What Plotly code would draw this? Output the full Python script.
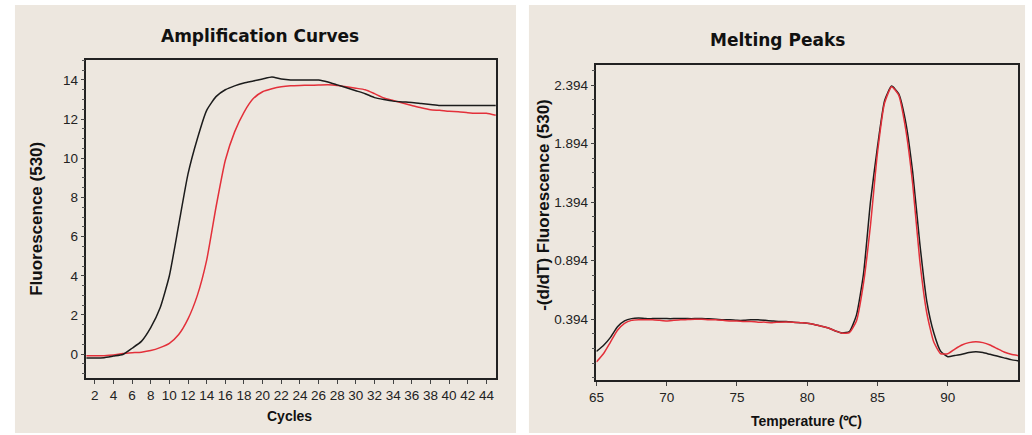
import plotly.graph_objects as go

# ---- Amplification curves: fluorescence (530) per PCR cycle ----
cycles = list(range(1, 46))
amp_black = [-0.20, -0.20, -0.18, -0.10, -0.02, 0.30, 0.65, 1.35, 2.35, 4.00,
             6.60, 9.20, 11.00, 12.45, 13.15, 13.50, 13.70, 13.85, 13.95, 14.05,
             14.15, 14.05, 14.00, 14.00, 14.00, 14.00, 13.90, 13.75, 13.60, 13.45,
             13.30, 13.10, 13.00, 12.92, 12.88, 12.85, 12.80, 12.75, 12.70, 12.70,
             12.70, 12.70, 12.70, 12.70, 12.70]
amp_red = [-0.08, -0.08, -0.08, -0.05, 0.03, 0.07, 0.10, 0.18, 0.33, 0.55,
           1.00, 1.80, 3.00, 4.80, 7.50, 9.90, 11.35, 12.35, 13.05, 13.40,
           13.55, 13.65, 13.70, 13.72, 13.73, 13.74, 13.75, 13.72, 13.65, 13.58,
           13.50, 13.30, 13.08, 12.95, 12.82, 12.70, 12.58, 12.48, 12.45, 12.40,
           12.38, 12.33, 12.30, 12.30, 12.20]
amp_xticks = list(range(2, 46, 2))
amp_yticks = [0, 2, 4, 6, 8, 10, 12, 14]

# ---- Melting peaks: -(d/dT) fluorescence (530) vs temperature ----
temps = [65 + 0.5 * i for i in range(61)]
melt_black = [0.12, 0.17, 0.24, 0.33, 0.38, 0.40, 0.405, 0.40, 0.40, 0.40,
              0.40, 0.40, 0.402, 0.40, 0.40, 0.40, 0.398, 0.395, 0.39, 0.39,
              0.385, 0.385, 0.39, 0.39, 0.385, 0.38, 0.375, 0.375, 0.37, 0.365,
              0.36, 0.35, 0.335, 0.32, 0.295, 0.278, 0.29, 0.43, 0.78, 1.40,
              1.87, 2.26, 2.385, 2.32, 2.08, 1.65, 1.05, 0.55, 0.28, 0.12,
              0.075, 0.085, 0.095, 0.11, 0.117, 0.11, 0.095, 0.08, 0.065, 0.05,
              0.04]
melt_red = [0.03, 0.10, 0.20, 0.30, 0.36, 0.385, 0.39, 0.39, 0.39, 0.385,
            0.38, 0.385, 0.39, 0.392, 0.395, 0.395, 0.39, 0.39, 0.385, 0.38,
            0.38, 0.375, 0.375, 0.37, 0.37, 0.365, 0.37, 0.372, 0.37, 0.365,
            0.36, 0.35, 0.335, 0.32, 0.295, 0.275, 0.28, 0.38, 0.70, 1.20,
            1.82, 2.24, 2.38, 2.31, 2.02, 1.55, 0.90, 0.45, 0.20, 0.10,
            0.10, 0.14, 0.175, 0.195, 0.203, 0.195, 0.175, 0.145, 0.115, 0.095,
            0.085]
melt_yticks = [0.394, 0.894, 1.394, 1.894, 2.394]
melt_xticks = [65, 70, 75, 80, 85, 90]

W, H = 1032, 435
BLACK = "#1c1c1c"
RED = "#e3303a"
PANEL = "#ede7df"
TICK_FONT = dict(family="Liberation Sans, Arial, sans-serif", size=13.5, color="#222")
LABEL_FONT = dict(family="Liberation Sans, Arial, sans-serif", size=14, color="#111")
VLABEL_FONT = dict(family="Liberation Sans, Arial, sans-serif", size=17, color="#111")
TITLE_FONT = dict(family="DejaVu Sans, Arial, sans-serif", size=17, color="#111")


def px_x(v):
    return v / W


def px_y(v):
    return 1 - v / H


fig = go.Figure()
line_style = dict(width=1.5, shape="spline", smoothing=0.5)
fig.add_trace(go.Scatter(x=cycles, y=amp_red, mode="lines", xaxis="x", yaxis="y",
                         line=dict(color=RED, **line_style), showlegend=False))
fig.add_trace(go.Scatter(x=cycles, y=amp_black, mode="lines", xaxis="x", yaxis="y",
                         line=dict(color=BLACK, **line_style), showlegend=False))
fig.add_trace(go.Scatter(x=temps, y=melt_black, mode="lines", xaxis="x2", yaxis="y2",
                         line=dict(color=BLACK, **line_style), showlegend=False))
fig.add_trace(go.Scatter(x=temps, y=melt_red, mode="lines", xaxis="x2", yaxis="y2",
                         line=dict(color=RED, **line_style), showlegend=False))

axis_common = dict(showline=True, mirror=True, linecolor="#222", linewidth=1.5,
                   showgrid=False, zeroline=False, ticks="outside", ticklen=4,
                   tickcolor="#444", tickwidth=1, tickfont=TICK_FONT, tickangle=0)


def label(text, x, y, font, angle=0):
    return dict(text=text, xref="paper", yref="paper", x=px_x(x), y=px_y(y),
                xanchor="center", yanchor="middle", showarrow=False,
                textangle=angle, font=font)


fig.update_layout(
    width=W, height=H,
    margin=dict(l=0, r=0, t=0, b=0),
    paper_bgcolor="white",
    plot_bgcolor="white",
    xaxis=dict(domain=[px_x(79), px_x(492)], range=[1.1, 45.05],
               tickvals=amp_xticks, anchor="y", **axis_common),
    yaxis=dict(domain=[px_y(378), px_y(60)], range=[-1.22, 15.02],
               tickvals=amp_yticks, anchor="x",
               minor=dict(tick0=0, dtick=0.5, ticks="outside", ticklen=3,
                          tickcolor="#555"),
               **axis_common),
    xaxis2=dict(domain=[px_x(593), px_x(1018)], range=[65, 95],
                tickvals=melt_xticks, anchor="y2", **axis_common),
    yaxis2=dict(domain=[px_y(380), px_y(65)], range=[-0.124, 2.565],
                tickvals=melt_yticks, ticktext=[f"{v:.3f}" for v in melt_yticks],
                anchor="x2",
                minor=dict(tick0=0.394, dtick=0.125, ticks="outside", ticklen=3,
                           tickcolor="#555"),
                **axis_common),
    shapes=[
        dict(type="rect", xref="paper", yref="paper", layer="below", line_width=0,
             fillcolor=PANEL, x0=px_x(7), x1=px_x(512), y0=px_y(433), y1=px_y(5)),
        dict(type="rect", xref="paper", yref="paper", layer="below", line_width=0,
             fillcolor=PANEL, x0=px_x(525), x1=px_x(1025), y0=px_y(433), y1=px_y(5)),
    ],
    annotations=[
        label("<b>Amplification Curves</b>", 254, 36, TITLE_FONT),
        label("<b>Melting Peaks</b>", 776, 40, TITLE_FONT),
        label("<b>Cycles</b>", 284, 416, LABEL_FONT),
        label("<b>Temperature (℃)</b>", 805, 421, LABEL_FONT),
        label("<b>Fluorescence (530)</b>", 28, 219, VLABEL_FONT, -90),
        label("<b>-(d/dT) Fluorescence (530)</b>", 539, 205, VLABEL_FONT, -90),
    ],
)

fig.write_html("out.html")
